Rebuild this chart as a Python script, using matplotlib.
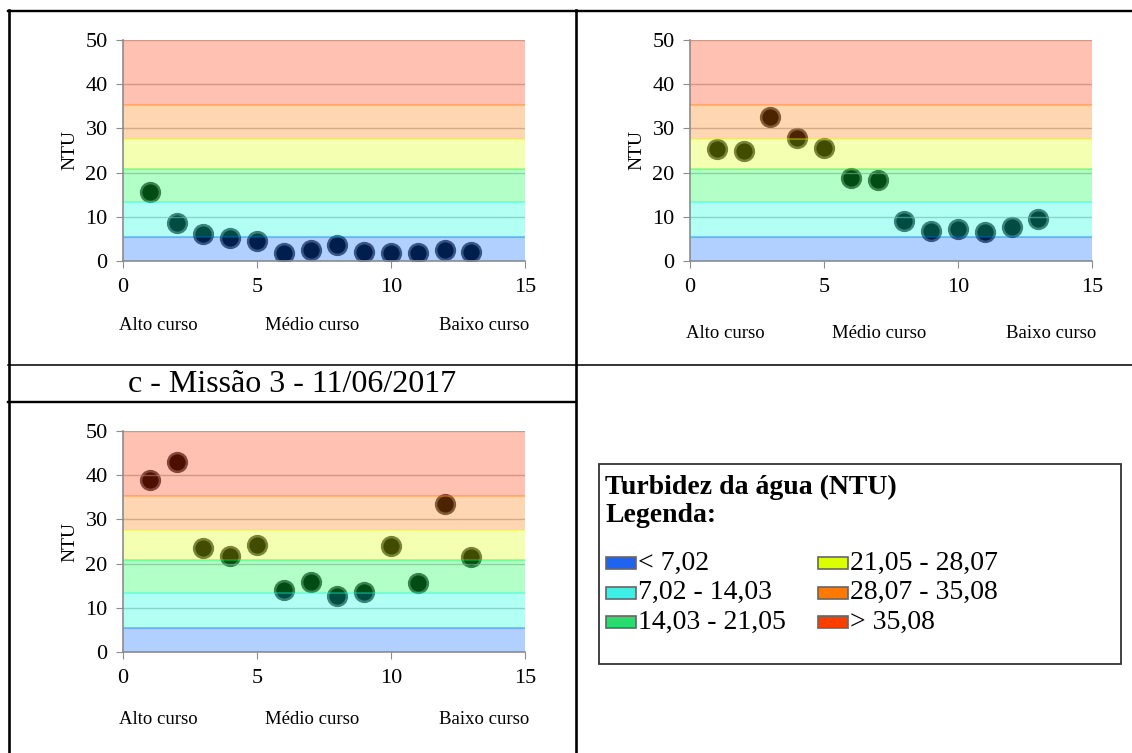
import matplotlib.pyplot as plt
from matplotlib.lines import Line2D
from matplotlib.patches import Rectangle

plt.rcParams['font.family'] = ['Liberation Serif', 'DejaVu Serif']

# sample points along the river
pontos = list(range(1, 14))
missao1 = [15.6, 8.6, 6.0, 5.1, 4.5, 1.7, 2.5, 3.6, 2.0, 1.8, 1.9, 2.4, 2.1]
missao2 = [25.3, 25.0, 32.6, 27.8, 25.6, 18.8, 18.3, 9.0, 6.8, 7.2, 6.6, 7.8, 9.4]
missao3 = [38.9, 42.9, 23.6, 21.8, 24.1, 14.0, 15.9, 12.6, 13.5, 23.9, 15.5, 33.5, 21.6]

# turbidity classes (band edges as drawn on the charts)
limites = [0, 5.5, 13.4, 20.9, 27.6, 35.3, 50]
cores_faixa = ['#0064ff', '#00ffdc', '#00ff46', '#dcff00', '#ff7800', '#ff3200']
classes = ['< 7,02', '7,02 - 14,03', '14,03 - 21,05',
           '21,05 - 28,07', '28,07 - 35,08', '> 35,08']
cores_legenda = ['#1e64f0', '#3cf0e6', '#28dc6e', '#dcff00', '#ff7800', '#ff3c00']
trechos = ['Alto curso', 'Médio curso', 'Baixo curso']

W, H = 1132, 753
fig = plt.figure(figsize=(W / 100, H / 100), dpi=100)


def fx(px):
    return px / W


def fy(py):
    return 1 - py / H


def painel(x0, y0, valores, desloc):
    ax = fig.add_axes([fx(x0), fy(y0), fx(402), 221 / H])
    ax.plot(pontos, valores, 'o', ms=13.5, mfc='#000000', mec='#505050',
            mew=1.8, zorder=2)
    for i in range(len(cores_faixa)):
        ax.axhspan(limites[i], limites[i + 1], color=cores_faixa[i],
                   alpha=0.3, lw=0, zorder=3)
        if i > 0:
            ax.axhline(limites[i], color=cores_faixa[i - 1], alpha=0.35,
                       lw=1.5, zorder=3)
    ax.set_xlim(0, 15)
    ax.set_ylim(0, 50)
    ax.set_xticks([0, 5, 10, 15])
    ax.set_yticks(range(0, 51, 10))
    ax.grid(axis='y', color='#9a9a9a', lw=1, alpha=0.6, zorder=4)
    ax.set_axisbelow(False)
    for s in ['top', 'right']:
        ax.spines[s].set_visible(False)
    for s in ['left', 'bottom']:
        ax.spines[s].set_color('#8c8c8c')
        ax.spines[s].set_linewidth(1.2)
        ax.spines[s].set_zorder(5)
    ax.tick_params(direction='out', length=5, color='#8c8c8c',
                   labelsize=16, pad=6)
    ax.tick_params(axis='x', pad=7)
    ax.set_ylabel('NTU', fontsize=14, labelpad=5)
    tr = ax.get_xaxis_transform()
    ax.text(-0.15, -desloc, trechos[0], transform=tr,
            ha='left', va='center', fontsize=13.5)
    ax.text(7.05, -desloc, trechos[1], transform=tr,
            ha='center', va='center', fontsize=13.5)
    ax.text(15.15, -desloc, trechos[2], transform=tr,
            ha='right', va='center', fontsize=13.5)
    return ax


painel(123, 261, missao1, 64 / 221)
painel(690, 261, missao2, 72 / 221)
painel(123, 652, missao3, 67 / 221)

# table borders
linhas = [
    ((8, 1132), (10.5, 10.5), 2),
    ((8.5, 8.5), (10, 753), 2.2),
    ((576, 576), (10, 753), 2.2),
    ((8, 1132), (364.5, 364.5), 1.3),
    ((8, 576), (402, 402), 2),
]
for xs, ys, lw in linhas:
    fig.add_artist(Line2D([fx(x) for x in xs], [fy(y) for y in ys],
                          transform=fig.transFigure, color='black', lw=lw * 0.86))

fig.text(fx(292), fy(384), 'c - Missão 3 - 11/06/2017', ha='center',
         va='center', fontsize=23)

# legend box
fig.add_artist(Rectangle((fx(599), fy(664)), fx(1121 - 599), (664 - 464) / H,
                         transform=fig.transFigure, fill=False,
                         ec='#333333', lw=1.3))
fig.text(fx(605), fy(487), 'Turbidez da água (NTU)', ha='left', va='center',
         fontsize=20, fontweight='bold')
fig.text(fx(605), fy(516), 'Legenda:', ha='left', va='center',
         fontsize=20, fontweight='bold')
for i, (rotulo, cor) in enumerate(zip(classes, cores_legenda)):
    col = i // 3
    lin = i % 3
    x0 = 606 if col == 0 else 818
    yc = 563 + lin * 29.5
    fig.add_artist(Rectangle((fx(x0), fy(yc + 6)), fx(30), 12 / H,
                             transform=fig.transFigure, fc=cor,
                             ec='#666666', lw=1.2))
    fig.text(fx(x0 + 32), fy(yc), rotulo, ha='left', va='center',
             fontsize=20)

fig.savefig('out.png', dpi=100)
